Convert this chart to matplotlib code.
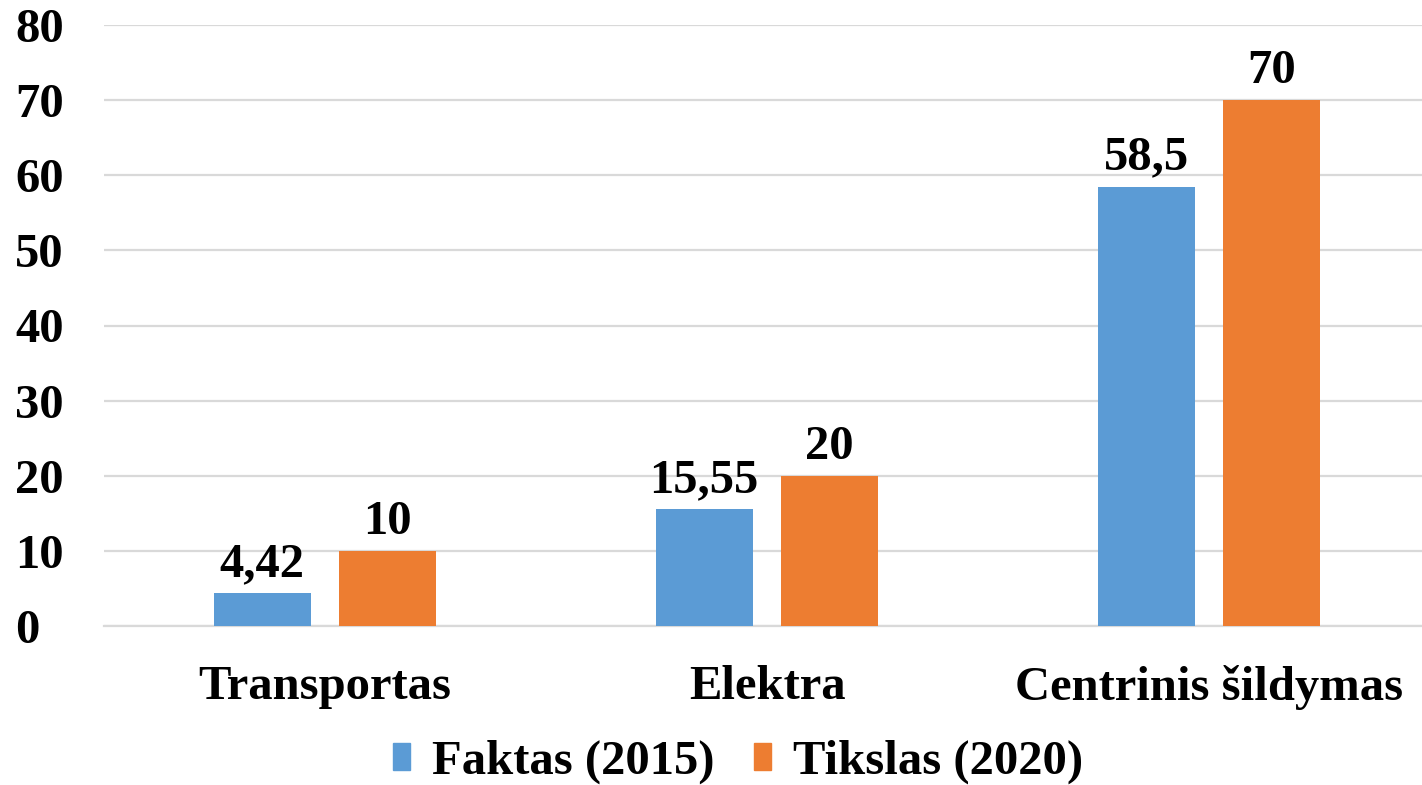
import numpy as np
import matplotlib.pyplot as plt
import matplotlib.patches as mpatches

# ── DATA ──────────────────────────────────────────────────────────────────────
categories = ["Transportas", "Elektra", "Centrinis šildymas"]
faktas_2015 = [4.42, 15.55, 58.5]
tikslas_2020 = [10, 20, 70]
faktas_labels = ["4,42", "15,55", "58,5"]
tikslas_labels = ["10", "20", "70"]
series_names = ["Faktas (2015)", "Tikslas (2020)"]
yticks = [0, 10, 20, 30, 40, 50, 60, 70, 80]

BLUE = "#5B9BD5"
ORANGE = "#ED7D31"
GRID = "#D9D9D9"
FS = 35

plt.rcParams['font.family'] = ['Liberation Serif', 'DejaVu Serif']
plt.rcParams['font.weight'] = 'bold'

fig = plt.figure(figsize=(14.22, 7.85), dpi=100)
ax = fig.add_axes([104 / 1422, 159 / 785, 1326 / 1422, 601 / 785])

x = np.arange(len(categories))
w = 0.22
off = 0.142
b1 = ax.bar(x - off, faktas_2015, width=w, color=BLUE, zorder=3)
b2 = ax.bar(x + off, tikslas_2020, width=w, color=ORANGE, zorder=3)

# value labels above bars
for bars, labs in ((b1, faktas_labels), (b2, tikslas_labels)):
    for rect, lab in zip(bars, labs):
        ax.annotate(lab, (rect.get_x() + rect.get_width() / 2, rect.get_height()),
                    textcoords='offset points', xytext=(0, 5),
                    ha='center', va='bottom', fontsize=FS, fontweight='bold')

ax.set_xlim(-0.5, 2.5)
ax.set_ylim(0, 80)
ax.set_yticks(yticks)
ax.set_yticklabels([str(t) for t in yticks], fontsize=FS, fontweight='bold')
ax.set_xticks(x)
ax.set_xticklabels(categories, fontsize=FS, fontweight='bold')
ax.tick_params(axis='both', length=0)
ax.tick_params(axis='x', pad=28)
for lbl in ax.get_yticklabels():
    lbl.set_horizontalalignment('left')
ax.yaxis.set_tick_params(pad=64)

ax.grid(axis='y', color=GRID, linewidth=1.6, zorder=0)
for s in ('top', 'right', 'left'):
    ax.spines[s].set_visible(False)
ax.spines['bottom'].set_color(GRID)
ax.spines['bottom'].set_linewidth(1.6)

handles = [mpatches.Patch(color=BLUE, label=series_names[0]),
           mpatches.Patch(color=ORANGE, label=series_names[1])]
fig.legend(handles=handles, loc='center', bbox_to_anchor=(738 / 1422, 1 - 762 / 785),
           ncol=2, frameon=False, prop={'size': FS, 'weight': 'bold'},
           handlelength=0.35, handleheight=0.5, handletextpad=0.45, columnspacing=0.8,
           borderpad=0)

fig.savefig("out.png", dpi=100)
